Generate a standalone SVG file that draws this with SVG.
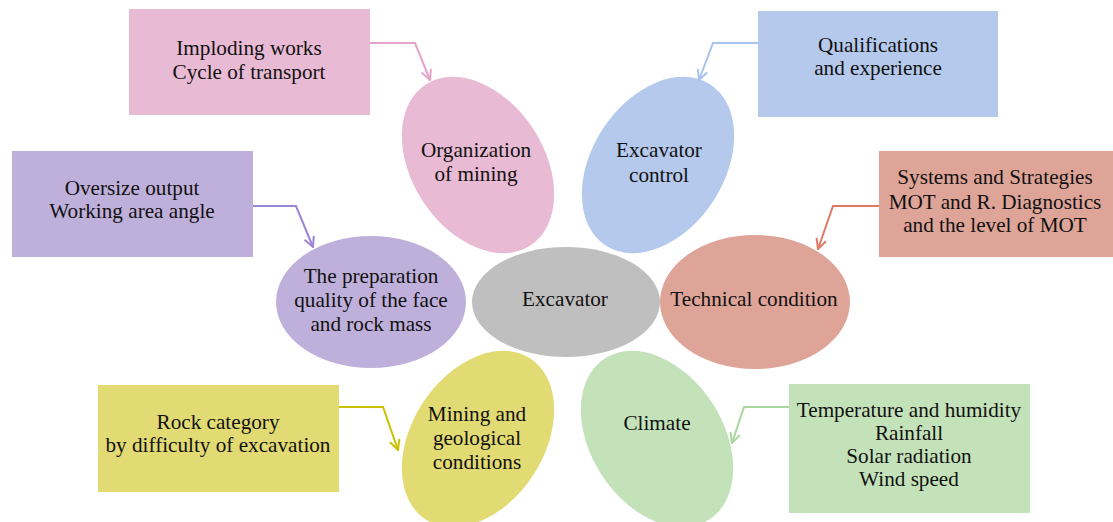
<svg xmlns="http://www.w3.org/2000/svg" width="1113" height="522" viewBox="0 0 1113 522">
<style>
text{font-family:"Liberation Serif","Times New Roman",serif;font-size:21.2px;fill:#111;text-anchor:middle}
.c{fill:none;stroke-width:2}
</style>
<defs>
<marker id="mp" viewBox="0 0 12 12" refX="11" refY="6" markerWidth="12" markerHeight="12" orient="auto" markerUnits="userSpaceOnUse"><polyline points="1,1 11,6 1,11" fill="none" stroke="#E6A3CA" stroke-width="2"/></marker>
<marker id="mb" viewBox="0 0 12 12" refX="11" refY="6" markerWidth="12" markerHeight="12" orient="auto" markerUnits="userSpaceOnUse"><polyline points="1,1 11,6 1,11" fill="none" stroke="#A8C3EE" stroke-width="2"/></marker>
<marker id="mv" viewBox="0 0 12 12" refX="11" refY="6" markerWidth="12" markerHeight="12" orient="auto" markerUnits="userSpaceOnUse"><polyline points="1,1 11,6 1,11" fill="none" stroke="#9C84D6" stroke-width="2"/></marker>
<marker id="ms" viewBox="0 0 12 12" refX="11" refY="6" markerWidth="12" markerHeight="12" orient="auto" markerUnits="userSpaceOnUse"><polyline points="1,1 11,6 1,11" fill="none" stroke="#DE7A66" stroke-width="2"/></marker>
<marker id="my" viewBox="0 0 12 12" refX="11" refY="6" markerWidth="12" markerHeight="12" orient="auto" markerUnits="userSpaceOnUse"><polyline points="1,1 11,6 1,11" fill="none" stroke="#C9C200" stroke-width="2"/></marker>
<marker id="mg" viewBox="0 0 12 12" refX="11" refY="6" markerWidth="12" markerHeight="12" orient="auto" markerUnits="userSpaceOnUse"><polyline points="1,1 11,6 1,11" fill="none" stroke="#A9D89C" stroke-width="2"/></marker>
</defs>
<rect width="1113" height="522" fill="#fff"/>

<g id="organization">
<ellipse cx="478" cy="165" rx="66" ry="96" transform="rotate(-33 478 165)" fill="#E8BAD3"/>
<text x="476" y="157">Organization</text>
<text x="476" y="181">of mining</text>
</g>
<g id="control">
<ellipse cx="658" cy="165" rx="66" ry="96" transform="rotate(33 658 165)" fill="#B4C9EC"/>
<text x="659" y="157">Excavator</text>
<text x="659" y="182">control</text>
</g>
<g id="preparation">
<ellipse cx="371" cy="302" rx="95" ry="66" fill="#BFB0DB"/>
<text x="371" y="283">The preparation</text>
<text x="371" y="307">quality of the face</text>
<text x="371" y="331">and rock mass</text>
</g>
<g id="technical">
<ellipse cx="755" cy="302" rx="95" ry="67" fill="#DFA498"/>
<text x="754" y="306">Technical condition</text>
</g>
<g id="mining">
<ellipse cx="478" cy="439" rx="66" ry="96" transform="rotate(33 478 439)" fill="#E2DA72"/>
<text x="477" y="421">Mining and</text>
<text x="477" y="445">geological</text>
<text x="477" y="469">conditions</text>
</g>
<g id="climate">
<ellipse cx="657" cy="439" rx="66" ry="96" transform="rotate(-33 657 439)" fill="#C4E2B9"/>
<text x="657" y="430">Climate</text>
</g>
<g id="excavator">
<ellipse cx="566" cy="302" rx="94" ry="55" fill="#BFBFBF"/>
<text x="565" y="306">Excavator</text>
</g>

<g id="box-imploding">
<rect x="129" y="9" width="241" height="106" fill="#E8BAD3"/>
<text x="249" y="55">Imploding works</text>
<text x="249" y="79">Cycle of transport</text>
</g>
<g id="box-qualifications">
<rect x="758" y="11" width="240" height="106" fill="#B4C9EC"/>
<text x="878" y="52">Qualifications</text>
<text x="878" y="75">and experience</text>
</g>
<g id="box-oversize">
<rect x="12" y="151" width="241" height="106" fill="#BFB0DB"/>
<text x="132" y="195">Oversize output</text>
<text x="132" y="218">Working area angle</text>
</g>
<g id="box-systems">
<rect x="879" y="151" width="234" height="106" fill="#DFA498"/>
<text x="995" y="184">Systems and Strategies</text>
<text x="995" y="209">MOT and R. Diagnostics</text>
<text x="995" y="232">and the level of MOT</text>
</g>
<g id="box-rock">
<rect x="98" y="385" width="241" height="107" fill="#E2DA72"/>
<text x="218" y="429">Rock category</text>
<text x="218" y="452">by difficulty of excavation</text>
</g>
<g id="box-temperature">
<rect x="789" y="384" width="241" height="129" fill="#C4E2B9"/>
<text x="909" y="417">Temperature and humidity</text>
<text x="909" y="440">Rainfall</text>
<text x="909" y="463">Solar radiation</text>
<text x="909" y="486">Wind speed</text>
</g>

<g id="connectors">
<polyline class="c" points="370,43 415,43 430,80" stroke="#E6A3CA" marker-end="url(#mp)"/>
<polyline class="c" points="758,43 713,43 699,80" stroke="#A8C3EE" marker-end="url(#mb)"/>
<polyline class="c" points="253,206 296,206 313,247" stroke="#9C84D6" marker-end="url(#mv)"/>
<polyline class="c" points="879,206 833,206 818,249" stroke="#DE7A66" marker-end="url(#ms)"/>
<polyline class="c" points="339,407 383,407 398,450" stroke="#C9C200" marker-end="url(#my)"/>
<polyline class="c" points="789,407 744,407 732,443" stroke="#A9D89C" marker-end="url(#mg)"/>
</g>
</svg>
